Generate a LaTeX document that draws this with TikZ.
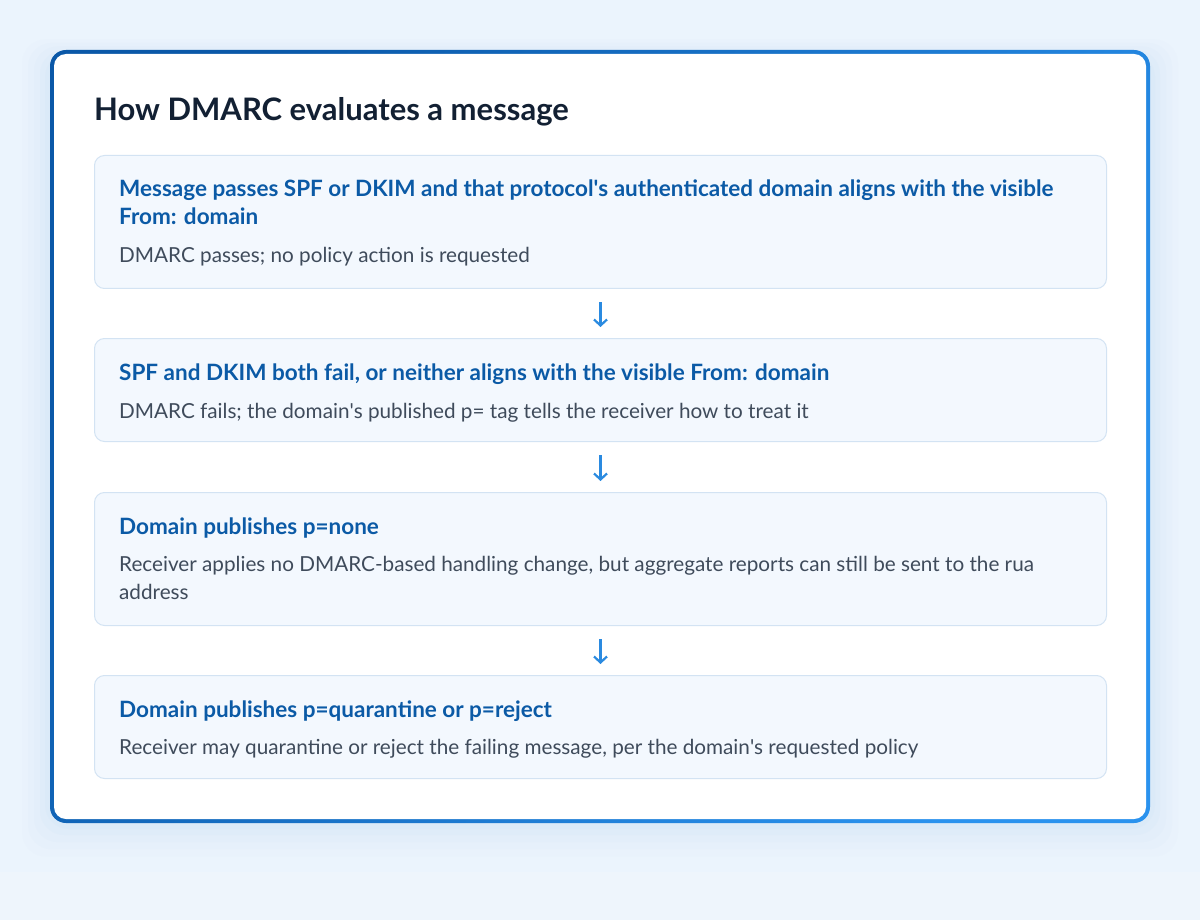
\documentclass[tikz,border=0pt]{standalone}
\usepackage{fontspec}
\setmainfont{Lato}
\usetikzlibrary{arrows.meta}
\definecolor{bgA}{HTML}{EBF4FD}
\definecolor{bgB}{HTML}{EEF5FC}
\definecolor{titlec}{HTML}{122033}
\definecolor{headc}{HTML}{0B5AA6}
\definecolor{bodyc}{HTML}{3F4B5B}
\definecolor{boxfill}{HTML}{F3F8FE}
\definecolor{boxline}{HTML}{D3E3F3}
\definecolor{arrowc}{HTML}{2A8AE0}
\definecolor{glow}{HTML}{C9DFF5}
\definecolor{frameA}{HTML}{0A58A8}
\definecolor{frameB}{HTML}{2A92EE}
\newcommand{\apos}{\textquotesingle}
\tikzset{
  stepbox/.style={draw=boxline, fill=boxfill, line width=1pt, rounded corners=10pt,
    minimum width=1012pt, inner sep=0pt, anchor=north west},
  headtxt/.style={anchor=base west, inner sep=0pt, text=headc, font=\fontsize{22.5}{26}\selectfont\bfseries},
  bodytxt/.style={anchor=base west, inner sep=0pt, text=bodyc, font=\fontsize{20.7}{24}\selectfont},
  flow/.style={draw=arrowc, line width=2.2pt, -{Straight Barb[length=6pt,width=13pt,line width=2.2pt]}}
}
\begin{document}
\begin{tikzpicture}[x=1pt,y=-1pt]
\useasboundingbox (0,0) rectangle (1200,920);
\fill[bgA] (0,0) rectangle (1200,872);
\fill[bgB] (0,872) rectangle (1200,920);
% glow
\foreach \d/\o in {28/0.06,22/0.08,16/0.10,10/0.12,5/0.14}{
  \fill[glow, opacity=\o, rounded corners=24pt] (50-\d,56-\d*0.6) rectangle (1150+\d,823+\d*1.2);
}
% frame with gradient border
\shade[rounded corners=16pt, left color=frameA, right color=frameB, shading angle=60]
  (50,50) rectangle (1150,823);
\fill[white, rounded corners=12pt] (54,54) rectangle (1146,819);
\node[anchor=base west, inner sep=0pt, text=titlec, font=\fontsize{31}{36}\selectfont\bfseries] (title) at (94,121) {How DMARC evaluates a message};
% boxes
\node[stepbox, minimum height=133pt] (b1) at (94,155) {};
\node[stepbox, minimum height=103pt] (b2) at (94,338) {};
\node[stepbox, minimum height=133pt] (b3) at (94,492) {};
\node[stepbox, minimum height=103pt] (b4) at (94,675) {};
% texts
\node[headtxt] (h1a) at (119,197) {Message passes SPF or DKIM and that protocol\apos s authenticated domain aligns with the visible};
\node[headtxt] (h1b) at (119,225) {From: domain};
\node[bodytxt] (t1) at (119,263) {DMARC passes; no policy action is requested};
\node[headtxt] (h2) at (119,380) {SPF and DKIM both fail, or neither aligns with the visible From: domain};
\node[bodytxt] (t2) at (119,418) {DMARC fails; the domain\apos s published p= tag tells the receiver how to treat it};
\node[headtxt] (h3) at (119,534) {Domain publishes p=none};
\node[bodytxt] (t3a) at (119,571) {Receiver applies no DMARC-based handling change, but aggregate reports can still be sent to the rua};
\node[bodytxt] (t3b) at (119,599) {address};
\node[headtxt] (h4) at (119,717) {Domain publishes p=quarantine or p=reject};
\node[bodytxt] (t4) at (119,754) {Receiver may quarantine or reject the failing message, per the domain\apos s requested policy};
% arrows
\draw[flow, shorten <=13pt, shorten >=11pt] (b1.south) -- (b2.north);
\draw[flow, shorten <=13pt, shorten >=11pt] (b2.south) -- (b3.north);
\draw[flow, shorten <=13pt, shorten >=11pt] (b3.south) -- (b4.north);
\end{tikzpicture}
\end{document}
